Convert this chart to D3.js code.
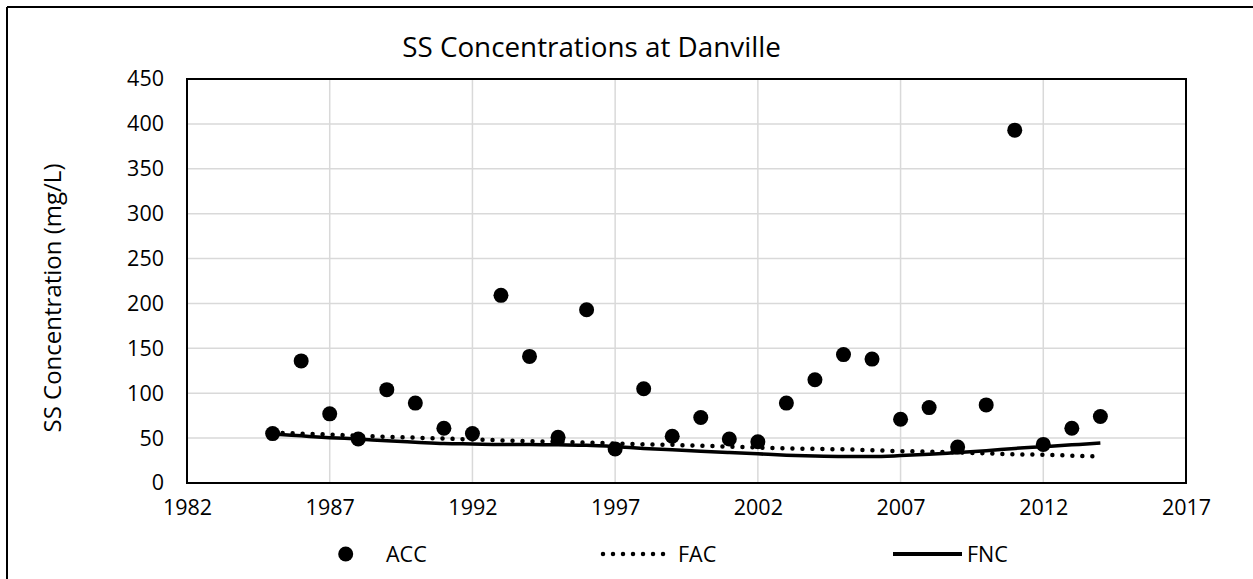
<!DOCTYPE html>
<html>
<head>
<meta charset="utf-8">
<script src="https://cdn.jsdelivr.net/npm/d3@7"></script>
<style>
  html, body { margin: 0; padding: 0; background: #fff; }
  svg { display: block; }
  text { font-family: "Open Sans", "DejaVu Sans", sans-serif; fill: #000; }
</style>
</head>
<body>
<svg id="chart" width="1253" height="579"></svg>
<script>
// ---- Data ----
const years = [1985,1986,1987,1988,1989,1990,1991,1992,1993,1994,1995,1996,1997,1998,1999,2000,2001,2002,2003,2004,2005,2006,2007,2008,2009,2010,2011,2012,2013,2014];
const accValues = [55,136,77,49,104,89,61,55,209,141,51,193,38,105,52,73,49,46,89,115,143,138,71,84,40,87,393,43,61,74];
const facValues = [56,55,54,52.5,51.5,50.5,49.5,48.5,47.5,46.5,46,45,44,43,42.5,41.5,40.5,39.5,38.5,38,37.5,36.5,35.5,35,34,33,32,31.5,30.5,29.5];
const fncValues = [54.5,52.5,50.5,49,47,45.5,44,43.5,43,43,42.5,42,40.5,38.5,37,35.5,34,32.5,31,30,29.5,29.5,30.5,32,34,36,38.5,40.5,42.5,44.5];
const xTicks = [1982,1987,1992,1997,2002,2007,2012,2017];
const yTicks = [0,50,100,150,200,250,300,350,400,450];
const seriesNames = ["ACC","FAC","FNC"];
const titleText = "SS Concentrations at Danville";
const yLabelText = "SS Concentration (mg/L)";

// ---- Layout ----
const svg = d3.select("#chart");
const plot = {left: 187, right: 1186, top: 79, bottom: 483};
const x = d3.scaleLinear().domain([1982, 2017]).range([plot.left, plot.right]);
const y = d3.scaleLinear().domain([0, 450]).range([plot.bottom, plot.top]);

// outer chart border (left and top visible)
svg.append("line").attr("x1", 7).attr("y1", 7).attr("x2", 7).attr("y2", 579).attr("stroke", "#000").attr("stroke-width", 2);
svg.append("line").attr("x1", 7).attr("y1", 7).attr("x2", 1253).attr("y2", 7).attr("stroke", "#000").attr("stroke-width", 2);

// gridlines
const grid = svg.append("g");
grid.selectAll("line.h").data(yTicks).join("line")
  .attr("x1", plot.left).attr("x2", plot.right)
  .attr("y1", d => y(d)).attr("y2", d => y(d))
  .attr("stroke", "#d9d9d9").attr("stroke-width", 1.5);
grid.selectAll("line.v").data(xTicks).join("line")
  .attr("y1", plot.top).attr("y2", plot.bottom)
  .attr("x1", d => x(d)).attr("x2", d => x(d))
  .attr("stroke", "#d9d9d9").attr("stroke-width", 1.5);

// axes (labels only)
const yAxis = d3.axisLeft(y).tickValues(yTicks).tickSize(0).tickPadding(23);
const yg = svg.append("g").attr("transform", `translate(${plot.left},0)`).call(yAxis);
yg.select(".domain").remove();
yg.selectAll("text").style("font-size", "21.5px").style("font-family", "'Open Sans', sans-serif");

const xAxis = d3.axisBottom(x).tickValues(xTicks).tickFormat(d3.format("d")).tickSize(0).tickPadding(17);
const xg = svg.append("g").attr("transform", `translate(0,${plot.bottom})`).call(xAxis);
xg.select(".domain").remove();
xg.selectAll("text").style("font-size", "21.5px").style("font-family", "'Open Sans', sans-serif");

// plot area border
svg.append("rect").attr("x", plot.left).attr("y", plot.top)
  .attr("width", plot.right - plot.left).attr("height", plot.bottom - plot.top)
  .attr("fill", "none").attr("stroke", "#000").attr("stroke-width", 2);

// lines
const facData = years.map((yr, i) => ({yr, v: facValues[i]}));
const fncData = years.map((yr, i) => ({yr, v: fncValues[i]}));
const line = d3.line().x(d => x(d.yr)).y(d => y(d.v)).curve(d3.curveMonotoneX);

svg.append("path").datum(facData).attr("d", line)
  .attr("fill", "none").attr("stroke", "#000").attr("stroke-width", 4.5)
  .attr("stroke-linecap", "round").attr("stroke-dasharray", "0.001 10");
svg.append("path").datum(fncData).attr("d", line)
  .attr("fill", "none").attr("stroke", "#000").attr("stroke-width", 3.5);

// points
svg.append("g").selectAll("circle").data(years.map((yr, i) => ({yr, v: accValues[i]}))).join("circle")
  .attr("cx", d => x(d.yr)).attr("cy", d => y(d.v)).attr("r", 7.5).attr("fill", "#000");

// title
svg.append("text").attr("x", 591.5).attr("y", 57).attr("text-anchor", "middle")
  .style("font-size", "27.8px").text(titleText);

// y label
svg.append("text").attr("transform", "translate(61,298) rotate(-90)")
  .attr("text-anchor", "middle").style("font-size", "24px").text(yLabelText);

// legend
const ly = 554;
const leg = svg.append("g");
leg.append("circle").attr("cx", 345.7).attr("cy", ly).attr("r", 7.5).attr("fill", "#000");
leg.append("text").attr("x", 386).attr("y", ly).attr("dy", "0.36em").style("font-size", "21.5px").text(seriesNames[0]);
leg.append("line").attr("x1", 603).attr("x2", 666).attr("y1", ly).attr("y2", ly)
  .attr("stroke", "#000").attr("stroke-width", 4.5).attr("stroke-linecap", "round").attr("stroke-dasharray", "0.001 10");
leg.append("text").attr("x", 678).attr("y", ly).attr("dy", "0.36em").style("font-size", "21.5px").text(seriesNames[1]);
leg.append("line").attr("x1", 893).attr("x2", 962).attr("y1", ly).attr("y2", ly)
  .attr("stroke", "#000").attr("stroke-width", 4);
leg.append("text").attr("x", 967).attr("y", ly).attr("dy", "0.36em").style("font-size", "21.5px").text(seriesNames[2]);
</script>
</body>
</html>
